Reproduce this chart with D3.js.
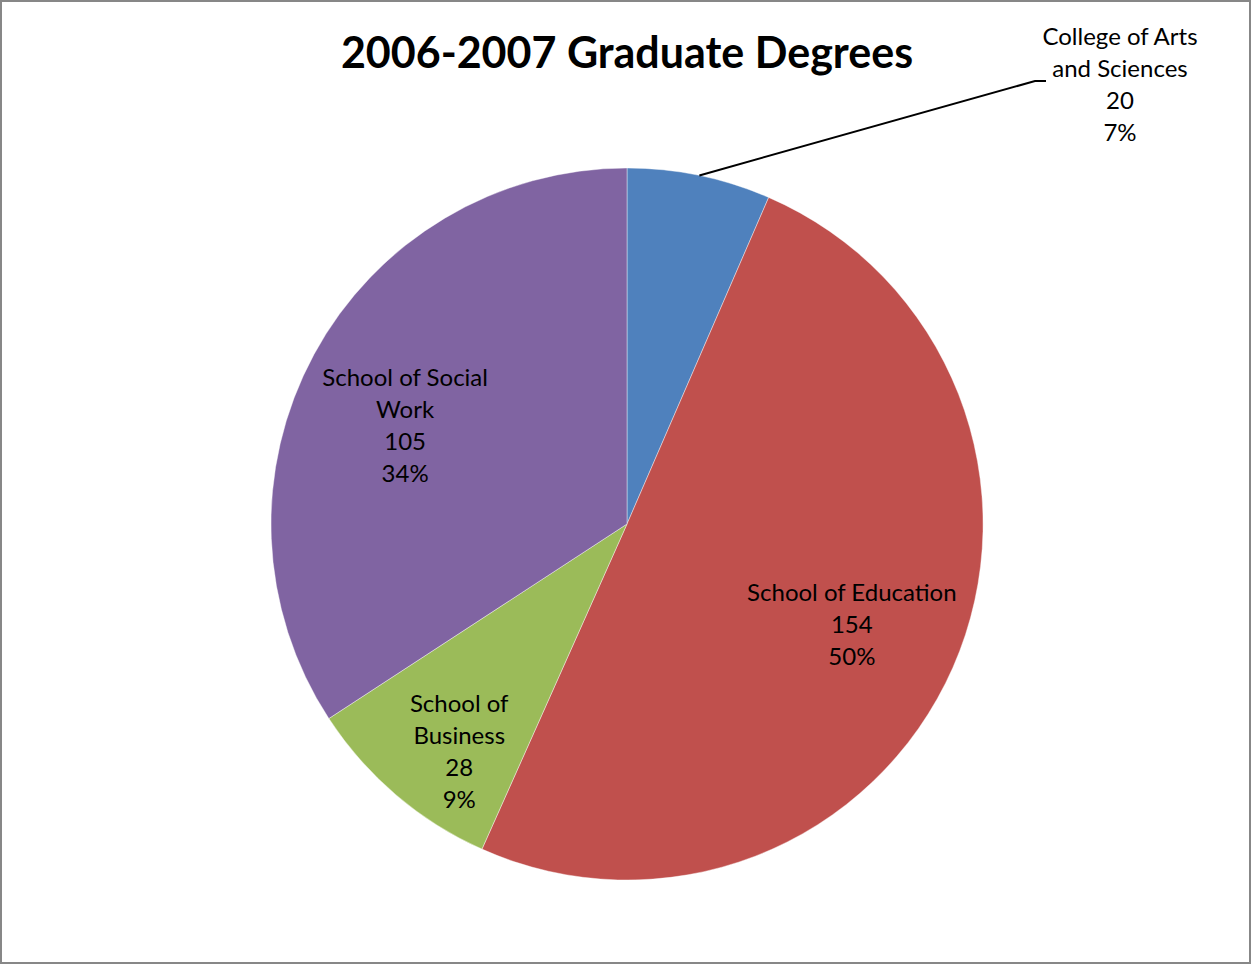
<!DOCTYPE html>
<html>
<head>
<meta charset="utf-8">
<script src="https://cdn.jsdelivr.net/npm/d3@7"></script>
<style>
  html, body { margin: 0; padding: 0; background: #fff; }
  svg { display: block; }
  text { font-family: Lato, "Open Sans", sans-serif; fill: #000; }
</style>
</head>
<body>
<svg id="chart" width="1252" height="965"></svg>
<script>
const title = "2006-2007 Graduate Degrees";
const categories = ["College of Arts and Sciences", "School of Education", "School of Business", "School of Social Work"];
const labelLines = [["College of Arts", "and Sciences"], ["School of Education"], ["School of", "Business"], ["School of Social", "Work"]];
const values = [20, 154, 28, 105];
const colors = ["#4F81BD", "#C0504D", "#9BBB59", "#8064A2"];
const labelRadius = [null, 0.69, 0.80, 0.68];
const labelNudge = [[0, 0], [0, 2], [17, 11], [-9, 17]];

const W = 1252, H = 965;
const cx = 627, cy = 524, R = 356;
const svg = d3.select("#chart");

svg.append("rect").attr("x", 1).attr("y", 1).attr("width", W - 3).attr("height", H - 3)
  .attr("fill", "#fff").attr("stroke", "#878787").attr("stroke-width", 2);

svg.append("text").attr("x", 627).attr("y", 68).attr("text-anchor", "middle")
  .attr("font-size", 43).attr("font-weight", "bold").text(title);

const total = d3.sum(values);
const pie = d3.pie().sort(null).value(d => d)(values);
const arc = d3.arc().innerRadius(0).outerRadius(R);

const g = svg.append("g").attr("transform", `translate(${cx},${cy})`);
g.selectAll("path").data(pie).join("path")
  .attr("d", arc).attr("fill", (d, i) => colors[i])
  .attr("stroke", "rgba(255,255,255,0.5)").attr("stroke-width", 0.8);

const fs = 24, lh = 32;
pie.forEach((d, i) => {
  const lines = labelLines[i].concat([String(values[i]), Math.round(values[i] / total * 100) + "%"]);
  let x, y;
  if (labelRadius[i] === null) {
    const mid = (d.startAngle + d.endAngle) / 2;
    const p0 = [Math.sin(mid) * R, -Math.cos(mid) * R];
    const kink = [1035 - cx, 81 - cy];
    const end = [1046 - cx, 81 - cy];
    g.append("polyline").attr("points", [p0, kink, end].map(p => p.join(",")).join(" "))
      .attr("fill", "none").attr("stroke", "#000").attr("stroke-width", 2);
    x = 1120 - cx; y = 37 - cy;
  } else {
    const c = d3.arc().innerRadius(0).outerRadius(R * labelRadius[i] * 2).centroid(d);
    x = c[0] + labelNudge[i][0];
    y = c[1] + labelNudge[i][1] - (lines.length - 1) * lh / 2;
  }
  const t = g.append("text").attr("text-anchor", "middle").attr("font-size", fs);
  lines.forEach((s, k) => {
    t.append("tspan").attr("x", x).attr("y", y + k * lh).attr("dy", "0.35em").text(s);
  });
});
</script>
</body>
</html>
